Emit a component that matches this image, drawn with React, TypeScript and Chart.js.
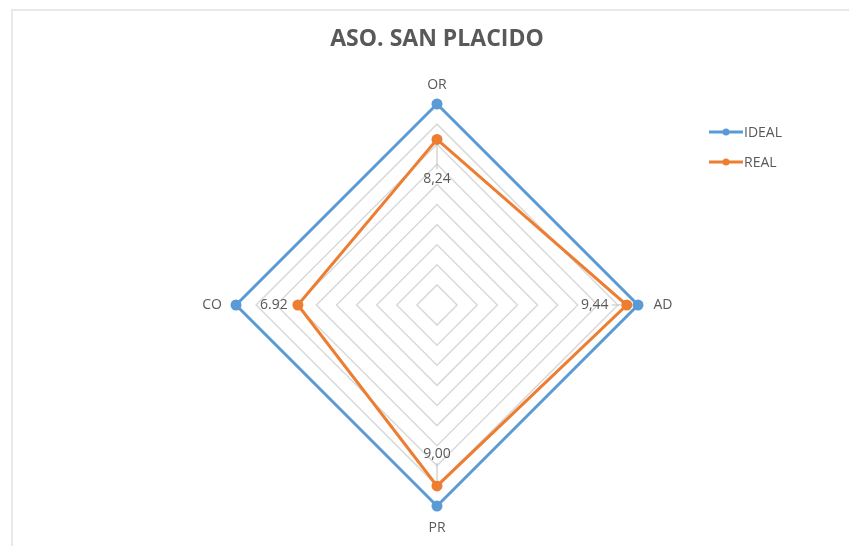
import React, { useEffect, useRef } from "react";
import { Chart, registerables } from "chart.js";

Chart.register(...registerables);

const TITLE = "ASO. SAN PLACIDO";
const CATEGORIES = ["OR", "AD", "PR", "CO"];
const IDEAL = [10, 10, 10, 10];
const REAL = [8.24, 9.44, 9.0, 6.92];
const REAL_LABELS = ["8,24", "9,44", "9,00", "6.92"];
const SERIES_NAMES = ["IDEAL", "REAL"];
const SCALE_MIN = 0;
const SCALE_MAX = 10;
const SCALE_STEP = 1;

const BLUE = "#5b9bd5";
const ORANGE = "#ed7d31";
const TEXT = "#595959";
const FONT = "'Open Sans', 'Liberation Sans', sans-serif";

const overlayPlugin = {
  id: "overlay",
  afterDraw(chart: any) {
    const ctx = chart.ctx as CanvasRenderingContext2D;
    const scale = chart.scales.r;
    const r = scale.drawingArea;
    ctx.save();

    // title
    ctx.fillStyle = TEXT;
    ctx.font = `bold 23px ${FONT}`;
    ctx.textAlign = "center";
    ctx.textBaseline = "middle";
    ctx.fillText(TITLE, 437, 39);

    // point labels
    ctx.font = `14px ${FONT}`;
    ctx.fillStyle = TEXT;
    const offs = [
      [0, -19],
      [25, 0],
      [0, 22],
      [-24, 0],
    ];
    CATEGORIES.forEach((c, i) => {
      const p = scale.getPointPosition(i, r);
      ctx.fillText(c, p.x + offs[i][0], p.y + offs[i][1]);
    });

    // data labels for REAL
    const meta = chart.getDatasetMeta(1);
    const lblOff = [
      [0, 40],
      [-32, 0],
      [0, -32],
      [-24, 0],
    ];
    ctx.strokeStyle = "#bfbfbf";
    ctx.lineWidth = 1;
    meta.data.forEach((pt: any, i: number) => {
      const tx = pt.x + lblOff[i][0];
      const ty = pt.y + lblOff[i][1];
      ctx.beginPath();
      if (i === 0) {
        ctx.moveTo(pt.x, pt.y + 6);
        ctx.lineTo(pt.x, ty - 10);
      } else if (i === 1) {
        ctx.moveTo(tx + 17, pt.y);
        ctx.lineTo(pt.x - 6, pt.y);
      } else if (i === 2) {
        ctx.moveTo(pt.x, ty + 9);
        ctx.lineTo(pt.x, pt.y - 6);
      }
      ctx.stroke();
      ctx.fillStyle = TEXT;
      ctx.font = `14px ${FONT}`;
      ctx.fillText(REAL_LABELS[i], tx, ty);
    });

    // legend
    const legendY = [132, 162];
    const colors = [BLUE, ORANGE];
    SERIES_NAMES.forEach((n, i) => {
      const y = legendY[i];
      ctx.strokeStyle = colors[i];
      ctx.lineWidth = 3;
      ctx.beginPath();
      ctx.moveTo(709, y);
      ctx.lineTo(743, y);
      ctx.stroke();
      ctx.fillStyle = colors[i];
      ctx.beginPath();
      ctx.arc(726, y, 3.5, 0, Math.PI * 2);
      ctx.fill();
      ctx.fillStyle = TEXT;
      ctx.textAlign = "left";
      ctx.font = `14px ${FONT}`;
      ctx.fillText(n, 744, y + 1);
    });
    ctx.restore();
  },
};

export default function App() {
  const ref = useRef<HTMLCanvasElement>(null);
  useEffect(() => {
    if (!ref.current) return;
    const chart = new Chart(ref.current, {
      type: "radar",
      data: {
        labels: CATEGORIES,
        datasets: [
          {
            label: SERIES_NAMES[0],
            data: IDEAL,
            borderColor: BLUE,
            backgroundColor: BLUE,
            pointBackgroundColor: BLUE,
            pointBorderColor: BLUE,
            borderWidth: 3,
            pointRadius: 4,
            fill: false,
            order: 1,
          },
          {
            label: SERIES_NAMES[1],
            data: REAL,
            borderColor: ORANGE,
            backgroundColor: ORANGE,
            pointBackgroundColor: ORANGE,
            pointBorderColor: ORANGE,
            borderWidth: 3,
            pointRadius: 4,
            fill: false,
            order: 0,
          },
        ],
      },
      options: {
        responsive: false,
        animation: false,
        layout: { padding: { left: 236, right: 211, top: 104, bottom: 40 } },
        plugins: {
          legend: { display: false },
          title: { display: false },
          tooltip: { enabled: false },
        },
        scales: {
          r: {
            min: SCALE_MIN,
            max: SCALE_MAX,
            ticks: { display: false, stepSize: SCALE_STEP },
            pointLabels: { display: false },
            angleLines: { display: false },
            grid: { color: "#d9d9d9", lineWidth: 1.5 },
          },
        },
      },
      plugins: [overlayPlugin],
    });
    return () => chart.destroy();
  }, []);
  return (
    <div style={{ position: "fixed", left: 0, top: 0, width: 849, height: 546, background: "#fff" }}>
      <div
        style={{
          position: "absolute",
          left: 11,
          top: 9,
          right: -2,
          bottom: -2,
          borderTop: "2px solid #e8e8e8",
          borderLeft: "2px solid #e8e8e8",
        }}
      />
      <canvas ref={ref} width={849} height={546} style={{ position: "absolute", left: 0, top: 0 }} />
    </div>
  );
}
